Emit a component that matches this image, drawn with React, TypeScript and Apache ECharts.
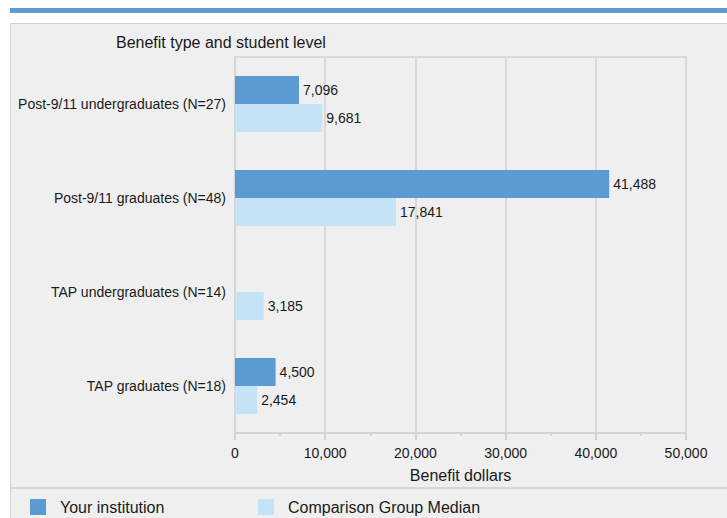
import React, { useEffect, useRef } from "react";
import * as echarts from "echarts";

const categories = [
  "Post-9/11 undergraduates (N=27)",
  "Post-9/11 graduates (N=48)",
  "TAP undergraduates (N=14)",
  "TAP graduates (N=18)",
];
const seriesNames = ["Your institution", "Comparison Group Median"];
const yourInstitution = [7096, 41488, null, 4500];
const comparisonMedian = [9681, 17841, 3185, 2454];
const FONT = "Liberation Sans, Arial, sans-serif";

export default function App() {
  const ref = useRef<HTMLDivElement>(null);
  useEffect(() => {
    if (!ref.current) return;
    const chart = echarts.init(ref.current, undefined, { renderer: "svg" });
    const fmt = (v: number) => v.toLocaleString("en-US");
    const label = {
      show: true,
      position: "right",
      distance: 4,
      color: "#1a1a1a",
      fontFamily: FONT,
      fontSize: 14,
      formatter: (p: any) => fmt(p.value),
    };
    chart.setOption({
      animation: false,
      backgroundColor: "#ffffff",
      textStyle: { fontFamily: FONT },
      graphic: [
        { type: "rect", z: -10, shape: { x: 10, y: 8, width: 720, height: 5 }, style: { fill: "#5b9bd1" } },
        { type: "rect", z: -10, shape: { x: 10.5, y: 23.5, width: 720, height: 500 }, style: { fill: "#efefef", stroke: "#d2d2d2", lineWidth: 1 } },
        { type: "line", z: -9, shape: { x1: 10, y1: 488, x2: 727, y2: 488 }, style: { stroke: "#d6d6d6", lineWidth: 2 } },
        { type: "text", z: 5, x: 116, y: 42, style: { text: "Benefit type and student level", fill: "#1a1a1a", font: `16px ${FONT}`, verticalAlign: "middle" } },
      ],
      legend: [
        {
          data: [seriesNames[0]],
          left: 30, top: 499, padding: 0, itemWidth: 16, itemHeight: 16, icon: "rect",
          textStyle: { fontSize: 16, color: "#1a1a1a", fontFamily: FONT, padding: [0, 0, 0, 9] },
        },
        {
          data: [seriesNames[1]],
          left: 258, top: 499, padding: 0, itemWidth: 16, itemHeight: 16, icon: "rect",
          textStyle: { fontSize: 16, color: "#1a1a1a", fontFamily: FONT, padding: [0, 0, 0, 9] },
        },
      ],
      grid: {
        left: 235, right: 41, top: 57, bottom: 85,
        show: true, backgroundColor: "transparent", borderColor: "#d9d9d9", borderWidth: 2,
      },
      xAxis: {
        type: "value",
        min: 0, max: 50000, interval: 10000,
        name: "Benefit dollars",
        nameLocation: "middle",
        nameGap: 34,
        nameTextStyle: { fontSize: 16, color: "#1a1a1a", fontFamily: FONT, verticalAlign: "top" },
        axisLine: { show: true, lineStyle: { color: "#d4d4d4", width: 2 } },
        axisTick: { show: true, length: 7, lineStyle: { color: "#d4d4d4", width: 2 } },
        minorTick: { show: true, splitNumber: 2, length: 3, lineStyle: { color: "#d4d4d4", width: 2 } },
        axisLabel: { fontSize: 14, color: "#1a1a1a", fontFamily: FONT, margin: 13, formatter: (v: number) => fmt(v) },
        splitLine: { show: true, lineStyle: { color: "#d9d9d9", width: 2 } },
      },
      yAxis: {
        type: "category",
        data: categories,
        inverse: true,
        axisLine: { show: true, lineStyle: { color: "#d4d4d4", width: 2 } },
        axisTick: { show: false },
        axisLabel: { fontSize: 14, color: "#1a1a1a", fontFamily: FONT, margin: 9 },
      },
      series: [
        {
          name: seriesNames[0], type: "bar", data: yourInstitution,
          itemStyle: { color: "#5b9bd1" }, barWidth: 28, barGap: "0%", label,
        },
        {
          name: seriesNames[1], type: "bar", data: comparisonMedian,
          itemStyle: { color: "#c5e3f6" }, barWidth: 28, barGap: "0%", label,
        },
      ],
    });
    return () => chart.dispose();
  }, []);
  return <div ref={ref} style={{ position: "absolute", left: 0, top: 0, width: 727, height: 518 }} />;
}
